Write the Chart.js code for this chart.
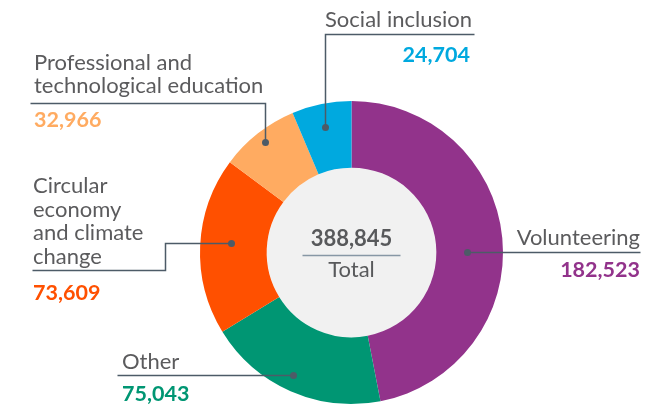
<!DOCTYPE html>
<html>
<head>
<meta charset="utf-8">
<script src="https://cdn.jsdelivr.net/npm/chart.js@4.4.1/dist/chart.umd.min.js"></script>
<style>
  html, body { margin: 0; padding: 0; background: #ffffff; }
  #wrap { width: 667px; height: 406px; position: relative; }
</style>
</head>
<body>
<div id="wrap"><canvas id="participants"></canvas></div>
<script>
// Participants per programme area
const categories = ['Volunteering', 'Other', 'Circular economy and climate change',
                    'Professional and technological education', 'Social inclusion'];
const participants = [182523, 75043, 73609, 32966, 24704];
const sliceColors = ['#92338b', '#009673', '#ff5000', '#ffab61', '#00a9df'];

// Label blocks: text lines, leader path (relative to chart centre) and dot
const labelLayout = [
  { idx: 0, lines: ['Volunteering'], x: 640, align: 'right', base: [245], valBase: 277,
    path: [[116, 0], [289, 0]] },
  { idx: 1, lines: ['Other'], x: 122, align: 'left', base: [369], valBase: 401,
    path: [[-58, 123], [-234, 123]] },
  { idx: 2, lines: ['Circular', 'economy', 'and climate', 'change'], x: 33, align: 'left',
    base: [193, 216.5, 240, 263.5], valBase: 300,
    path: [[-120, -9], [-186, -9], [-186, 18], [-319, 18]] },
  { idx: 3, lines: ['Professional and', 'technological education'], x: 34, align: 'left',
    base: [70, 93.3], valBase: 126.5,
    path: [[-86, -110], [-86, -149], [-321, -149]] },
  { idx: 4, lines: ['Social inclusion'], x: 325, align: 'left', base: [26.5], valBase: 61.5,
    valX: 470, valAlign: 'right',
    path: [[-26, -125], [-26, -218], [123, -218]] }
];

const fmt = n => n.toLocaleString('en-US');
const FONT = 'Lato, "Open Sans", sans-serif';

const labelPlugin = {
  id: 'doughnutLabels',
  beforeDatasetsDraw(chart) {
    const arc = chart.getDatasetMeta(0).data[0];
    const ctx = chart.ctx;
    ctx.save();
    ctx.fillStyle = '#f1f1f1';
    ctx.beginPath();
    ctx.arc(arc.x, arc.y, arc.innerRadius, 0, Math.PI * 2);
    ctx.fill();
    ctx.restore();
  },
  afterDatasetsDraw(chart) {
    const arc = chart.getDatasetMeta(0).data[0];
    const cx = arc.x, cy = arc.y;
    const ctx = chart.ctx;
    const total = participants.reduce((a, b) => a + b, 0);
    ctx.save();

    // centre total
    ctx.textAlign = 'center';
    ctx.textBaseline = 'alphabetic';
    ctx.fillStyle = '#58595b';
    ctx.font = 'bold 22px ' + FONT;
    ctx.fillText(fmt(total), cx, cy - 6.5);
    ctx.font = '22px ' + FONT;
    ctx.fillText('Total', cx, cy + 24);
    ctx.strokeStyle = '#8797a5';
    ctx.lineWidth = 1.5;
    ctx.beginPath();
    ctx.moveTo(cx - 49, cy + 3);
    ctx.lineTo(cx + 49, cy + 3);
    ctx.stroke();

    labelLayout.forEach(l => {
      // leader line and dot
      ctx.strokeStyle = '#4d5b67';
      ctx.lineWidth = 1.5;
      ctx.beginPath();
      l.path.forEach((p, i) => {
        if (i === 0) ctx.moveTo(cx + p[0], cy + p[1]);
        else ctx.lineTo(cx + p[0], cy + p[1]);
      });
      ctx.stroke();
      ctx.fillStyle = '#4d5b67';
      ctx.beginPath();
      ctx.arc(cx + l.path[0][0], cy + l.path[0][1], 3.5, 0, Math.PI * 2);
      ctx.fill();

      // category name
      ctx.textAlign = l.align;
      ctx.fillStyle = '#5b5b5d';
      ctx.font = '22px ' + FONT;
      l.lines.forEach((t, i) => ctx.fillText(t, l.x, l.base[i]));

      // value
      ctx.textAlign = l.valAlign || l.align;
      ctx.fillStyle = sliceColors[l.idx];
      ctx.font = 'bold 21.5px ' + FONT;
      ctx.fillText(fmt(participants[l.idx]), l.valX || l.x, l.valBase);
    });
    ctx.restore();
  }
};

new Chart(document.getElementById('participants').getContext('2d'), {
  type: 'doughnut',
  data: {
    labels: categories,
    datasets: [{
      data: participants,
      backgroundColor: sliceColors,
      borderWidth: 0,
      hoverOffset: 0
    }]
  },
  options: {
    responsive: true,
    maintainAspectRatio: false,
    animation: false,
    cutout: '56%',
    layout: { padding: { left: 200, right: 164, top: 101, bottom: 2 } },
    plugins: {
      legend: { display: false },
      tooltip: { enabled: false }
    }
  },
  plugins: [labelPlugin]
});
</script>
</body>
</html>
